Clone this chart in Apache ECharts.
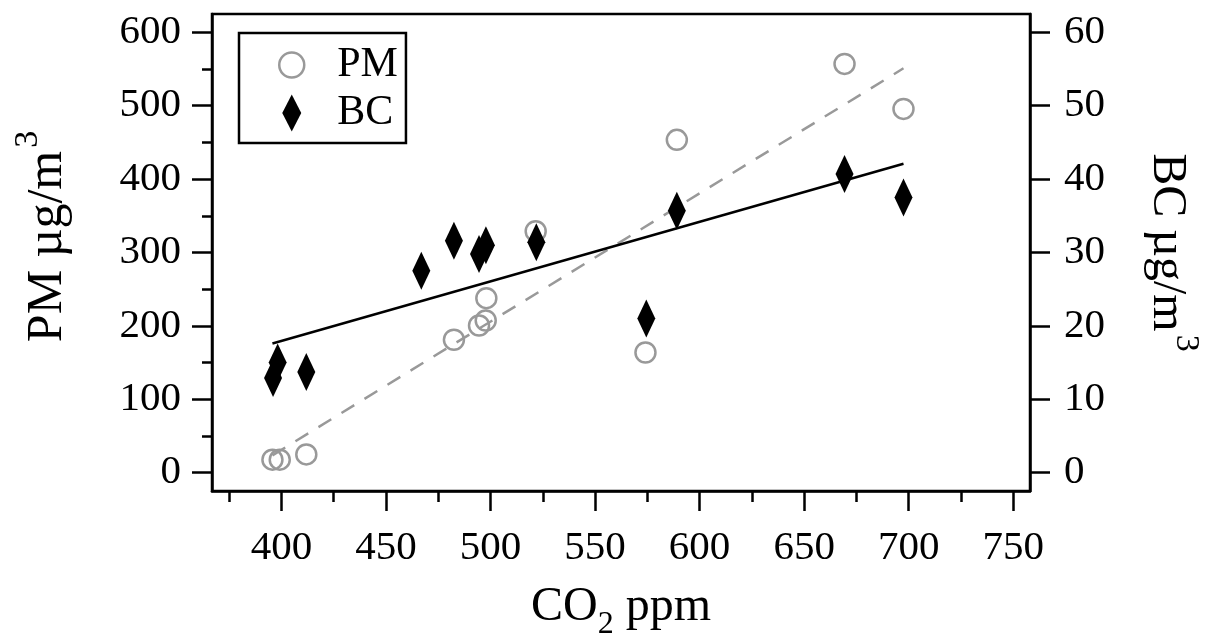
<!DOCTYPE html>
<html>
<head>
<meta charset="utf-8">
<script src="https://cdn.jsdelivr.net/npm/echarts@6.0.0/dist/echarts.min.js"></script>
<style>html,body{margin:0;padding:0;background:#fff}#c{width:1213px;height:634px}</style>
</head>
<body>
<div id="c"></div>
<script>
// ---- data ----
const co2PM = [395.7, 399.2, 411.9, 482.5, 494.5, 497.7, 498.0, 521.6, 574.1, 589.1, 669.3, 697.5];
const pmValues = [17.7, 17.7, 24.9, 181.1, 200.6, 207.4, 237.8, 329.0, 163.8, 453.5, 557.0, 495.7];
const co2BC = [396.0, 398.2, 411.9, 466.9, 482.5, 494.5, 497.8, 521.9, 574.5, 589.1, 669.3, 697.5];
const bcValues = [12.9, 15.0, 13.7, 27.5, 31.6, 29.8, 31.0, 31.4, 21.0, 35.7, 40.7, 37.5];
const fitCO2 = [395.7, 697.5];
const fitPM = [23.6, 551.0];
const fitBC = [17.6, 42.1];
const xMajorTicks = [400, 450, 500, 550, 600, 650, 700, 750];
const xMinorTicks = [375, 425, 475, 525, 575, 625, 675, 725];
const pmMajorTicks = [0, 100, 200, 300, 400, 500, 600];
const pmMinorTicks = [50, 150, 250, 350, 450, 550];
const bcTicks = [0, 10, 20, 30, 40, 50, 60];

const FONT = 'Liberation Serif';
const BLACK = '#000';
const GRAY = '#999';

const chart = echarts.init(document.getElementById('c'), null, {renderer: 'canvas'});
const tickStyle = {color: BLACK, width: 2.5};
const labelStyle = {fontFamily: FONT, fontSize: 41, color: BLACK};

const option = {
  animation: false,
  backgroundColor: '#fff',
  grid: {left: 212, right: 183, top: 14, bottom: 143, show: true, borderColor: BLACK, borderWidth: 2.5,
         backgroundColor: 'transparent', containLabel: false, outerBoundsMode: 'none'},
  legend: {
    orient: 'vertical', left: 239, top: 33,
    padding: [11, 8, 9, 39],
    itemWidth: 25, itemHeight: 37, itemGap: 6,
    borderColor: BLACK, borderWidth: 2.5, borderRadius: 0, backgroundColor: '#fff',
    selectedMode: false,
    textStyle: {fontFamily: FONT, fontSize: 42, color: BLACK, lineHeight: 37, padding: [0, 0, 0, 28]},
    data: [
      {name: 'PM', icon: 'circle', itemStyle: {color: 'rgba(255,255,255,0)', borderColor: GRAY, borderWidth: 2.5, opacity: 1}},
      {name: 'BC', icon: 'path://M0,-18.5L9.5,0L0,18.5L-9.5,0Z', itemStyle: {color: BLACK, borderWidth: 0, opacity: 1}}
    ]
  },
  xAxis: [
    {
      type: 'value', min: 366.8, max: 758, position: 'bottom',
      axisLine: {show: true, onZero: false, lineStyle: tickStyle},
      axisTick: {show: true, customValues: xMajorTicks, length: 20, lineStyle: tickStyle},
      axisLabel: Object.assign({customValues: xMajorTicks, margin: 37}, labelStyle),
      splitLine: {show: false},
      name: 'CO{sub|2} ppm', nameLocation: 'middle', nameGap: 82,
      nameTextStyle: {fontFamily: FONT, fontSize: 48, color: BLACK,
        rich: {sub: {fontFamily: FONT, fontSize: 32, color: BLACK, padding: [36, 0, 0, 0]}}}
    },
    {
      type: 'value', min: 366.8, max: 758, position: 'bottom',
      axisLine: {show: false, onZero: false},
      axisTick: {show: true, customValues: xMinorTicks, length: 11, lineStyle: tickStyle},
      axisLabel: {show: false},
      splitLine: {show: false}
    }
  ],
  yAxis: [
    {
      type: 'value', min: -25, max: 625, position: 'left',
      axisLine: {show: true, onZero: false, lineStyle: tickStyle},
      axisTick: {show: true, customValues: pmMajorTicks, length: 20, lineStyle: tickStyle},
      axisLabel: Object.assign({customValues: pmMajorTicks, margin: 31}, labelStyle),
      splitLine: {show: false},
      name: '{t|PM µg/m}{sup|3}', nameLocation: 'middle', nameRotate: 90, nameGap: 139,
      nameTextStyle: {rich: {
        t: {fontFamily: FONT, fontSize: 50, color: BLACK, padding: [12, 0, 0, 32]},
        sup: {fontFamily: FONT, fontSize: 34, color: BLACK, verticalAlign: 'top', padding: [0, 0, 0, 3]}
      }}
    },
    {
      type: 'value', min: -25, max: 625, position: 'left',
      axisLine: {show: false, onZero: false},
      axisTick: {show: true, customValues: pmMinorTicks, length: 10, lineStyle: tickStyle},
      axisLabel: {show: false},
      splitLine: {show: false}
    },
    {
      type: 'value', min: -2.5, max: 62.5, position: 'right',
      axisLine: {show: true, onZero: false, lineStyle: tickStyle},
      axisTick: {show: true, customValues: bcTicks, length: 20, lineStyle: tickStyle},
      axisLabel: Object.assign({customValues: bcTicks, margin: 34}, labelStyle),
      splitLine: {show: false},
      name: '{t|BC µg/m}{sup|3}', nameLocation: 'middle', nameRotate: -90, nameGap: 113,
      nameTextStyle: {rich: {
        t: {fontFamily: FONT, fontSize: 48, color: BLACK, padding: [12, 0, 0, 0]},
        sup: {fontFamily: FONT, fontSize: 34, color: BLACK, verticalAlign: 'top', padding: [0, 0, 0, 3]}
      }}
    }
  ],
  series: [
    {
      name: 'PM', type: 'scatter', xAxisIndex: 0, yAxisIndex: 0, z: 2,
      symbol: 'circle', symbolSize: 20,
      itemStyle: {color: 'rgba(255,255,255,0)', borderColor: GRAY, borderWidth: 2.5, opacity: 1},
      data: co2PM.map((x, i) => [x, pmValues[i]])
    },
    {
      name: 'PM fit', type: 'line', xAxisIndex: 0, yAxisIndex: 0, z: 3,
      showSymbol: false, symbol: 'none',
      lineStyle: {color: GRAY, width: 2.5, type: [15, 12]},
      data: fitCO2.map((x, i) => [x, fitPM[i]])
    },
    {
      name: 'BC', type: 'scatter', xAxisIndex: 0, yAxisIndex: 2, z: 4,
      symbol: 'diamond', symbolSize: [18, 38],
      itemStyle: {color: BLACK, opacity: 1},
      data: co2BC.map((x, i) => [x, bcValues[i]])
    },
    {
      name: 'BC fit', type: 'line', xAxisIndex: 0, yAxisIndex: 2, z: 5,
      showSymbol: false, symbol: 'none',
      lineStyle: {color: BLACK, width: 2.5},
      data: fitCO2.map((x, i) => [x, fitBC[i]])
    }
  ]
};
chart.setOption(option);
</script>
</body>
</html>
